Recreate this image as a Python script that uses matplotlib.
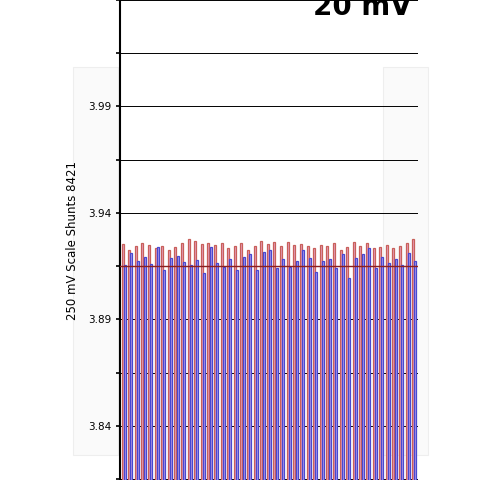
import matplotlib
matplotlib.use("Agg")
import matplotlib.pyplot as plt
import numpy as np

red_vals = [3.9255,3.9225,3.9245,3.926,3.925,3.9235,3.9245,3.9225,3.924,3.926,3.928,3.927,3.9255,3.926,3.925,3.926,3.9235,3.9245,3.926,3.9225,3.9245,3.927,3.9255,3.9265,3.9245,3.9265,3.925,3.9255,3.9245,3.9235,3.925,3.9245,3.926,3.9225,3.924,3.9265,3.9245,3.926,3.9235,3.924,3.925,3.9235,3.9245,3.926,3.928]
blue_vals = [3.9155,3.921,3.9175,3.9195,3.916,3.924,3.913,3.919,3.920,3.917,3.9155,3.918,3.912,3.924,3.9165,3.9145,3.9185,3.913,3.9195,3.9205,3.913,3.9215,3.9225,3.914,3.9185,3.9145,3.9175,3.9225,3.919,3.9125,3.9175,3.9185,3.914,3.9205,3.9095,3.919,3.9205,3.9235,3.914,3.9195,3.9165,3.9185,3.9155,3.921,3.9175]
y_ticks = [3.84, 3.89, 3.94, 3.99]
ref_line = 3.915

fig = plt.figure(figsize=(4.93, 4.80), dpi=100)
bg = fig.add_axes([0, 0, 1, 1], zorder=-5)
bg.set_xlim(0, 493); bg.set_ylim(480, 0); bg.axis("off")
for x0 in (73, 383):
    bg.add_patch(plt.Rectangle((x0, 67), 45, 388, facecolor="#fafafa", edgecolor="#eeeeee", linewidth=0.8))

ax = fig.add_axes([120/493, 0, 298/493, 1])
ax.patch.set_alpha(0)
n = len(red_vals)
x = np.arange(n)
w = 0.3
ax.bar(x - 0.17, red_vals, width=w, color="#e8a0c0", edgecolor="#c8605a", linewidth=0.9, zorder=2)
ax.bar(x + 0.17, blue_vals, width=w, color="#b49ae6", edgecolor="#4848d0", linewidth=0.9, zorder=2)
ax.set_ylim(3.8146, 4.0361)
ax.set_xlim(-0.55, n - 0.45)
grid = np.arange(3.815, 4.04, 0.025)
for g in grid:
    ax.axhline(g, color="black", linewidth=0.7, zorder=1)
ax.axhline(ref_line, color="#8b2020", linewidth=1.0, zorder=3)
ax.set_yticks(grid, minor=True)
ax.set_yticks(y_ticks)
ax.set_yticklabels([f"{v:.2f}" for v in y_ticks], fontsize=7.5)
ax.tick_params(axis="y", which="both", direction="out", length=3, width=1.2)
ax.set_xticks([])
for s in ["top", "right", "bottom"]:
    ax.spines[s].set_visible(False)
ax.spines["left"].set_linewidth(1.5)
ax.set_ylabel("250 mV Scale Shunts 8421", fontsize=8.5, labelpad=6)
fig.text(362/493, 1 - 15/480, "20 mV", fontsize=20, fontweight="bold", ha="center", va="baseline")
fig.savefig("out.png", dpi=100)
